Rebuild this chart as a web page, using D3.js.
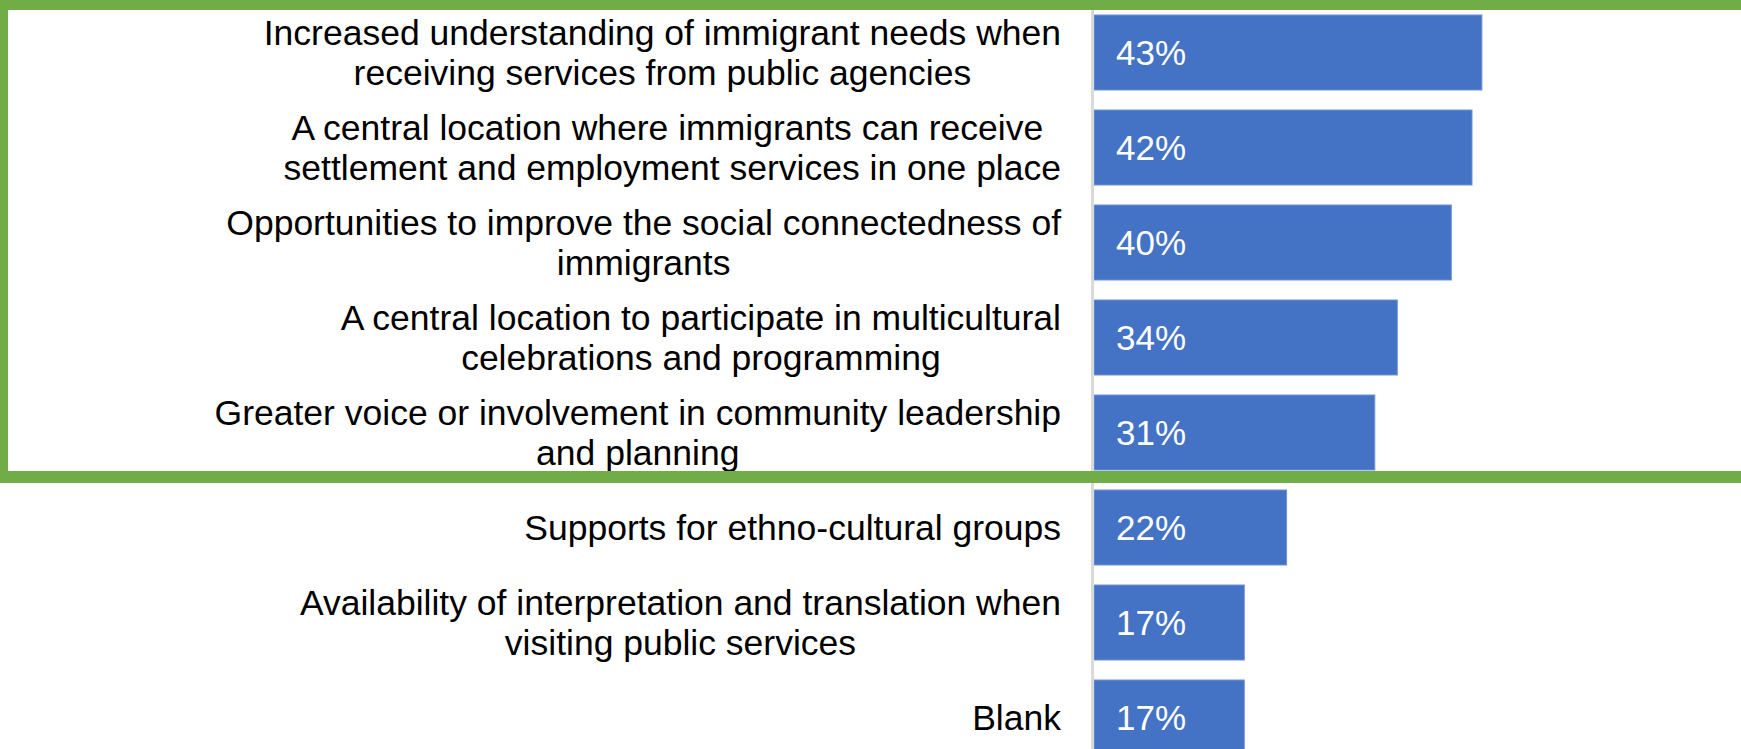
<!DOCTYPE html>
<html>
<head>
<meta charset="utf-8">
<script src="https://cdn.jsdelivr.net/npm/d3@7"></script>
<style>
  html, body { margin: 0; padding: 0; background: #ffffff; }
  svg { display: block; }
  text { font-family: "Liberation Sans", Arial, sans-serif; }
</style>
</head>
<body>
<div id="chart"></div>
<script>
// ---- data ----
const categories = [
  "Increased understanding of immigrant needs when receiving services from public agencies",
  "A central location where immigrants can receive settlement and employment services in one place",
  "Opportunities to improve the social connectedness of immigrants",
  "A central location to participate in multicultural celebrations and programming",
  "Greater voice or involvement in community leadership and planning",
  "Supports for ethno-cultural groups",
  "Availability of interpretation and translation when visiting public services",
  "Blank"
];
const categoryLines = [
  ["Increased understanding of immigrant needs when", "receiving services from public agencies"],
  ["A central location where immigrants can receive ", "settlement and employment services in one place"],
  ["Opportunities to improve the social connectedness of", "immigrants"],
  ["A central location to participate in multicultural", "celebrations and programming"],
  ["Greater voice or involvement in community leadership", "and planning"],
  ["Supports for ethno-cultural groups"],
  ["Availability of interpretation and translation when", "visiting public services"],
  ["Blank"]
];
const values = [0.431, 0.420, 0.397, 0.337, 0.312, 0.214, 0.167, 0.167];
const valueLabels = ["43%", "42%", "40%", "34%", "31%", "22%", "17%", "17%"];

// ---- layout ----
const W = 1741, H = 749;
const axisX = 1094;
const labelRight = 1061;
const svg = d3.select("#chart").append("svg").attr("width", W).attr("height", H);

const x = d3.scaleLinear().domain([0, 0.5]).range([axisX, axisX + 450]);
const y = d3.scaleBand().domain(categories).range([5, 765])
  .paddingInner(20 / 95).paddingOuter(10 / 95);

// bars
svg.append("g").selectAll("rect").data(categories).join("rect")
  .attr("x", x(0))
  .attr("y", d => y(d))
  .attr("width", (d, i) => x(values[i]) - x(0))
  .attr("height", y.bandwidth())
  .attr("fill", "#4472C4")
  .attr("stroke", "#6f93d6")
  .attr("stroke-width", 1);

// vertical axis line
const yAxis = d3.axisLeft(y).tickSize(0).tickFormat("");
const ag = svg.append("g").attr("transform", `translate(${axisX - 1.5},0)`).call(yAxis);
ag.select(".domain").attr("stroke", "#d9d9d9").attr("stroke-width", 3)
  .attr("d", `M0,0V${H}`);

// value labels
svg.append("g").selectAll("text").data(categories).join("text")
  .attr("x", x(0) + 22)
  .attr("y", d => y(d) + y.bandwidth() / 2)
  .attr("dy", "0.35em")
  .attr("fill", "#ffffff")
  .attr("font-size", 35)
  .text((d, i) => valueLabels[i]);

// category labels: block right-aligned, lines centred within the block
const lineH = 40;
const cg = svg.append("g").selectAll("text").data(categories).join("text")
  .attr("text-anchor", "middle")
  .attr("font-size", 35.5)
  .attr("fill", "#000000")
  .style("white-space", "pre");
cg.each(function(d, i) {
  const lines = categoryLines[i];
  const cy = y(d) + y.bandwidth() / 2;
  const startY = cy - (lines.length - 1) * lineH / 2;
  const spans = d3.select(this).selectAll("tspan").data(lines).join("tspan")
    .attr("y", (l, j) => startY + j * lineH)
    .attr("dy", "0.35em")
    .text(l => l);
  let maxW = 0;
  spans.each(function() { maxW = Math.max(maxW, this.getComputedTextLength()); });
  spans.attr("x", labelRight - maxW / 2);
});

// green highlight frame
const green = "#70AD47";
svg.append("rect").attr("x", 0).attr("y", 0).attr("width", W).attr("height", 10).attr("fill", green);
svg.append("rect").attr("x", 0).attr("y", 0).attr("width", 8).attr("height", 483).attr("fill", green);
svg.append("rect").attr("x", 0).attr("y", 471).attr("width", W).attr("height", 12).attr("fill", green);
</script>
</body>
</html>
